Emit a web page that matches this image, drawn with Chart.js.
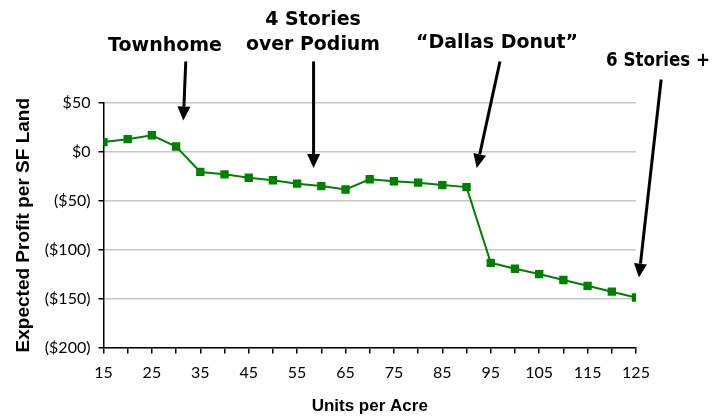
<!DOCTYPE html>
<html>
<head>
<meta charset="utf-8">
<script src="https://cdn.jsdelivr.net/npm/chart.js@4/dist/chart.umd.min.js"></script>
<style>
  html, body { margin: 0; padding: 0; background: #fff; }
  #wrap { width: 715px; height: 417px; }
</style>
</head>
<body>
<div id="wrap"><canvas id="myChart"></canvas></div>
<script>
const units = [15, 20, 25, 30, 35, 40, 45, 50, 55, 60, 65, 70, 75, 80, 85, 90, 95, 100, 105, 110, 115, 120, 125];
const profit = [10, 13, 17, 5.5, -20.5, -23, -26.5, -29, -32.5, -35, -38.5, -28, -30, -31.5, -34, -36, -113.5, -119.5, -125, -131, -137, -143, -149];

// callouts: text lines, text centre (px), arrow tail and tip in data units
const callouts = [
  { lines: ["Townhome"], tx: 165, ty: 46, w: 116, from: [32, 92.5], to: [31.5, 32] },
  { lines: ["4 Stories", "over Podium"], tx: 313, ty: 20, w: 134, from: [58.4, 92.5], to: [58.4, -16.5] },
  { lines: ["\u201cDallas Donut\u201d"], tx: 497, ty: 43, w: 162, from: [96.9, 92.5], to: [92.1, -16.5] },
  { lines: ["6 Stories +"], tx: 658, ty: 61, w: 104, from: [130.2, 74], to: [125.6, -128.6] },
];

const calloutPlugin = {
  id: "callouts",
  afterDraw(chart) {
    const { ctx, scales: { x, y } } = chart;
    ctx.save();
    ctx.font = "bold 19px 'DejaVu Sans', sans-serif";
    ctx.textAlign = "center";
    ctx.textBaseline = "middle";
    ctx.fillStyle = "#000";
    callouts.forEach(c => {
      c.lines.forEach((t, i) => ctx.fillText(t, c.tx, c.ty + i * 25, c.w));
      const x1 = x.getPixelForValue(c.from[0]), y1 = y.getPixelForValue(c.from[1]);
      const x2 = x.getPixelForValue(c.to[0]), y2 = y.getPixelForValue(c.to[1]);
      const a = Math.atan2(y2 - y1, x2 - x1);
      const head = 14, half = 6.5;
      const bx = x2 - head * Math.cos(a), by = y2 - head * Math.sin(a);
      ctx.strokeStyle = "#000";
      ctx.lineWidth = 3;
      ctx.beginPath();
      ctx.moveTo(x1, y1);
      ctx.lineTo(bx, by);
      ctx.stroke();
      ctx.beginPath();
      ctx.moveTo(x2, y2);
      ctx.lineTo(bx + half * Math.sin(a), by - half * Math.cos(a));
      ctx.lineTo(bx - half * Math.sin(a), by + half * Math.cos(a));
      ctx.closePath();
      ctx.fill();
    });
    ctx.restore();
  }
};

const ctx = document.getElementById("myChart").getContext("2d");

const myChart = new Chart(ctx, {
  type: "line",
  data: {
    datasets: [{
      data: units.map((u, i) => ({ x: u, y: profit[i] })),
      borderColor: "#008000",
      backgroundColor: "#008000",
      borderWidth: 2,
      pointStyle: "rect",
      pointRadius: 4.5,
      tension: 0,
    }],
  },
  plugins: [calloutPlugin],
  options: {
    responsive: true,
    maintainAspectRatio: false,
    animation: false,
    layout: { padding: { top: 103, right: 79, left: 8, bottom: 0 } },
    plugins: { legend: { display: false }, tooltip: { enabled: false } },
    scales: {
      x: {
        type: "linear",
        min: 15,
        max: 125,
        border: { color: "#000", width: 1.5 },
        grid: { drawOnChartArea: false, color: "#000", tickLength: 6, lineWidth: 1.5 },
        ticks: {
          stepSize: 5,
          autoSkip: false,
          maxRotation: 0,
          color: "#000",
          padding: 10,
          font: { family: "Lato, sans-serif", size: 16 },
          callback: v => ((v - 15) % 10 === 0 ? String(v) : ""),
        },
        title: {
          display: true,
          text: "Units per Acre",
          color: "#000",
          font: { family: "'Liberation Sans', Arial, sans-serif", size: 17, weight: "bold" },
          padding: { top: 4, bottom: 0 },
        },
      },
      y: {
        min: -200,
        max: 50,
        border: { color: "#000", width: 1.5 },
        grid: { color: "#c8c8c8", lineWidth: 1.5, tickLength: 5, tickColor: "#000" },
        ticks: {
          stepSize: 50,
          color: "#000",
          padding: 8,
          font: { family: "Lato, sans-serif", size: 16 },
          callback: v => (v < 0 ? "($" + Math.abs(v) + ")" : "$" + v),
        },
        title: {
          display: true,
          text: "Expected Profit per SF Land",
          color: "#000",
          font: { family: "'Liberation Sans', Arial, sans-serif", size: 19, weight: "bold" },
          padding: { bottom: 2 },
        },
      },
    },
  },
});
</script>
</body>
</html>
